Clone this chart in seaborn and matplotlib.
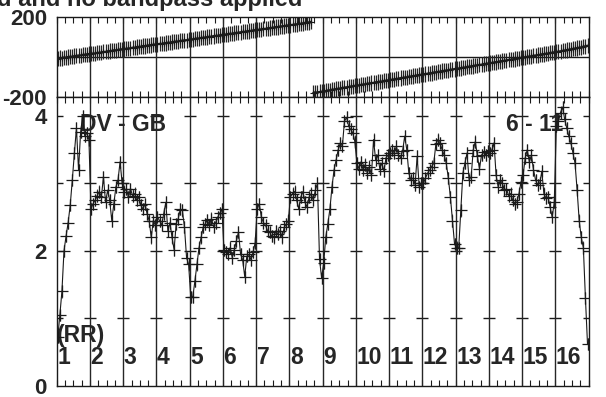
import matplotlib

matplotlib.use("Agg")
import matplotlib.pyplot as plt
import numpy as np
import pandas as pd
import seaborn as sns

# values (16 IFs x 16 channels)
amp_by_if = [
    [0.72, 1.05, 1.4, 2.0, 2.22, 2.42, 2.68, 3.05, 3.45, 3.82, 3.2, 3.76, 4.0, 3.7, 3.75, 3.65],
    [2.62, 2.7, 2.75, 2.82, 2.88, 2.8, 3.1, 2.72, 2.9, 2.75, 2.45, 2.7, 2.95, 3.05, 3.32, 3.0],
    [2.88, 2.92, 2.8, 2.92, 2.82, 2.85, 2.75, 2.8, 2.68, 2.62, 2.7, 2.55, 2.45, 2.2, 2.45, 2.38],
    [2.5, 2.45, 2.38, 2.55, 2.72, 2.3, 2.42, 2.2, 2.02, 2.4, 2.48, 2.62, 2.6, 2.35, 1.9, 1.8],
    [1.32, 1.32, 1.55, 1.8, 2.05, 2.2, 2.35, 2.4, 2.46, 2.38, 2.48, 2.36, 2.42, 2.5, 2.56, 2.62],
    [2.02, 1.98, 1.95, 2.05, 1.9, 2.02, 2.15, 2.28, 1.95, 1.87, 1.62, 1.92, 1.95, 1.87, 1.98, 2.12],
    [2.62, 2.7, 2.5, 2.42, 2.38, 2.3, 2.28, 2.22, 2.2, 2.3, 2.25, 2.3, 2.2, 2.35, 2.4, 2.45],
    [2.8, 2.85, 2.88, 2.75, 2.62, 2.8, 2.88, 2.72, 2.65, 2.8, 2.85, 2.75, 2.9, 3.0, 1.88, 1.6],
    [1.82, 2.2, 2.4, 2.62, 2.95, 3.2, 3.35, 3.5, 3.6, 3.55, 3.92, 3.98, 3.85, 3.8, 3.75, 3.62],
    [3.3, 3.22, 3.32, 3.2, 3.28, 3.15, 3.25, 3.12, 3.65, 3.35, 3.42, 3.22, 3.3, 3.18, 3.38, 3.42],
    [3.45, 3.5, 3.45, 3.55, 3.42, 3.38, 3.48, 3.7, 3.5, 3.15, 3.05, 3.08, 2.98, 3.4, 2.95, 3.0],
    [3.0, 3.08, 3.15, 3.2, 3.25, 3.3, 3.58, 3.65, 3.6, 3.5, 3.42, 3.3, 3.08, 2.8, 2.45, 2.1],
    [2.05, 2.04, 2.6, 3.15, 3.3, 3.45, 3.05, 3.1, 3.5, 3.62, 3.4, 3.22, 3.42, 3.46, 3.42, 3.48],
    [3.45, 3.5, 3.6, 3.12, 2.95, 3.05, 3.0, 2.9, 2.92, 2.82, 2.85, 2.75, 2.7, 2.72, 2.85, 3.02],
    [3.12, 3.38, 3.5, 3.32, 3.42, 3.2, 3.05, 2.98, 3.0, 3.18, 2.85, 2.78, 2.8, 2.65, 2.5, 2.72],
    [3.85, 3.92, 4.05, 4.13, 3.95, 3.82, 3.7, 3.6, 3.45, 3.3, 2.9, 2.45, 2.2, 2.05, 1.3, 0.62],
]

phase_by_if = [
    [-8, -5, -6, -2, -3, 0, 2, 2, 5, 6, 8, 8, 11, 12, 14, 15],
    [16, 18, 18, 21, 22, 23, 26, 26, 29, 30, 31, 34, 34, 36, 38, 39],
    [40, 42, 43, 44, 47, 47, 50, 51, 52, 55, 55, 57, 59, 60, 62, 63],
    [64, 66, 66, 69, 70, 72, 72, 75, 76, 78, 78, 81, 82, 84, 84, 87],
    [88, 89, 91, 93, 93, 96, 97, 98, 100, 102, 102, 105, 106, 107, 109, 111],
    [112, 113, 115, 117, 117, 120, 121, 122, 124, 126, 126, 129, 130, 131, 133, 135],
    [136, 137, 139, 141, 141, 144, 145, 146, 148, 150, 150, 153, 154, 155, 157, 159],
    [160, 161, 163, 164, 166, 167, 169, 171, 172, 174, 176, -179, -178, -176, -175, -173],
    [-171, -170, -167, -166, -163, -162, -160, -158, -157, -154, -153, -151, -150, -147, -146, -144],
    [-142, -141, -139, -137, -136, -133, -132, -130, -129, -126, -125, -123, -122, -119, -118, -116],
    [-114, -113, -111, -109, -108, -105, -104, -102, -101, -98, -97, -95, -94, -91, -90, -88],
    [-86, -85, -83, -81, -80, -77, -76, -74, -73, -70, -69, -67, -66, -63, -62, -60],
    [-58, -57, -55, -53, -52, -49, -48, -46, -45, -42, -41, -39, -38, -35, -34, -32],
    [-30, -29, -27, -25, -24, -21, -20, -18, -17, -14, -13, -11, -10, -7, -6, -4],
    [-2, -1, 1, 3, 4, 7, 8, 10, 11, 14, 15, 17, 18, 21, 22, 24],
    [26, 27, 29, 31, 33, 35, 37, 39, 41, 43, 45, 47, 49, 52, 54, 57],
]

if_labels = [str(i) for i in range(1, 17)]
amp_ticks = [0, 2, 4]
amp_marks = [1, 2, 3, 4]
phase_ticks = [-200, 200]
AMP_ERR = 0.09
PHASE_ERR = 38

title = "d and no bandpass applied"
baseline_label = "DV - GB"
time_label = "6 - 11"
stokes_label = "(RR)"


def build_frame():
    amp = np.concatenate(amp_by_if)
    phase = np.concatenate(phase_by_if).astype(float)
    chan = np.arange(1, len(amp) + 1)
    # do not join the phase line across the +-180 wrap
    branch = np.concatenate([[0], np.cumsum(np.abs(np.diff(phase)) > 180)])
    return pd.DataFrame({"chan": chan, "amp": amp, "phase": phase, "branch": branch})


def main():
    df = build_frame()
    n_if = len(amp_by_if)
    per_if = len(amp_by_if[0])
    n_chan = n_if * per_if
    edges = np.arange(n_if + 1) * per_if + 0.5

    sns.set_theme(style="white")
    plt.rcParams["font.family"] = ["Liberation Sans", "DejaVu Sans"]
    plt.rcParams["font.weight"] = "bold"
    plt.rcParams["axes.unicode_minus"] = False

    fig = plt.figure(figsize=(6.06, 3.97), dpi=100)
    ax_ph = fig.add_axes([0.0936, 0.7557, 0.8776, 0.2015])
    ax_amp = fig.add_axes([0.0936, 0.0277, 0.8776, 0.7280], sharex=ax_ph)

    # phase panel
    ax_ph.axhline(0, color="k", lw=1, zorder=1)
    ax_ph.errorbar(df["chan"], df["phase"], yerr=PHASE_ERR, fmt="none",
                   ecolor="0.15", elinewidth=0.9, zorder=2)
    sns.lineplot(data=df, x="chan", y="phase", units="branch", estimator=None,
                 color="k", lw=1.5, marker="+", markersize=5, mec="k", mew=0.8,
                 legend=False, ax=ax_ph, zorder=3)
    ax_ph.set_ylim(-200, 200)
    ax_ph.set_yticks(phase_ticks)

    # amplitude panel
    xx, yy = np.meshgrid(edges, amp_marks)
    ax_amp.plot(xx.ravel(), yy.ravel(), ls="none", marker="_", ms=8, mew=1,
                color="k", zorder=1)
    ax_amp.errorbar(df["chan"], df["amp"], yerr=AMP_ERR, fmt="none",
                    ecolor="0.3", elinewidth=0.8, zorder=2)
    sns.lineplot(data=df, x="chan", y="amp", color="k", lw=0.8, marker="+",
                 markersize=9, mec="0.1", mew=0.9, legend=False, ax=ax_amp, zorder=3)
    ax_amp.set_ylim(0, 4.28)
    ax_amp.set_yticks(amp_ticks)

    for ax in (ax_ph, ax_amp):
        for x in edges[1:-1]:
            ax.axvline(x, color="0.15", lw=1, zorder=1)
        ax.set_xlim(0.5, n_chan + 0.5)
        ax.set_xticks(np.arange(0.5, n_chan + 1, 4))
        ax.set_xlabel("")
        ax.set_ylabel("")
        ax.tick_params(axis="x", direction="in", top=True, bottom=True,
                       length=4, width=0.8, color="k", labelbottom=False)
        ax.tick_params(axis="y", length=0, pad=7, labelsize=16)
        for sp in ax.spines.values():
            sp.set_color("k")
            sp.set_linewidth(1)

    # annotations
    for start, lab in zip(edges[:-1], if_labels):
        ax_amp.text(start + 0.3, 0.33, lab, ha="left", va="baseline",
                    fontsize=16.5, fontweight="bold", zorder=1)
    ax_amp.text(0.8, 0.65, stokes_label, ha="left", va="baseline",
                fontsize=16.5, fontweight="bold", zorder=1)
    ax_amp.text(11.9, 3.78, baseline_label, ha="left", va="baseline",
                fontsize=16.5, fontweight="bold", zorder=1)
    ax_amp.text(216.7, 3.78, time_label, ha="left", va="baseline",
                fontsize=16.5, fontweight="bold", zorder=1)

    fig.text(-3 / 606, 1 - 6 / 397, title, ha="left", va="baseline",
             fontsize=17, fontweight="bold")

    fig.savefig("out.png", dpi=100)


if __name__ == "__main__":
    main()
